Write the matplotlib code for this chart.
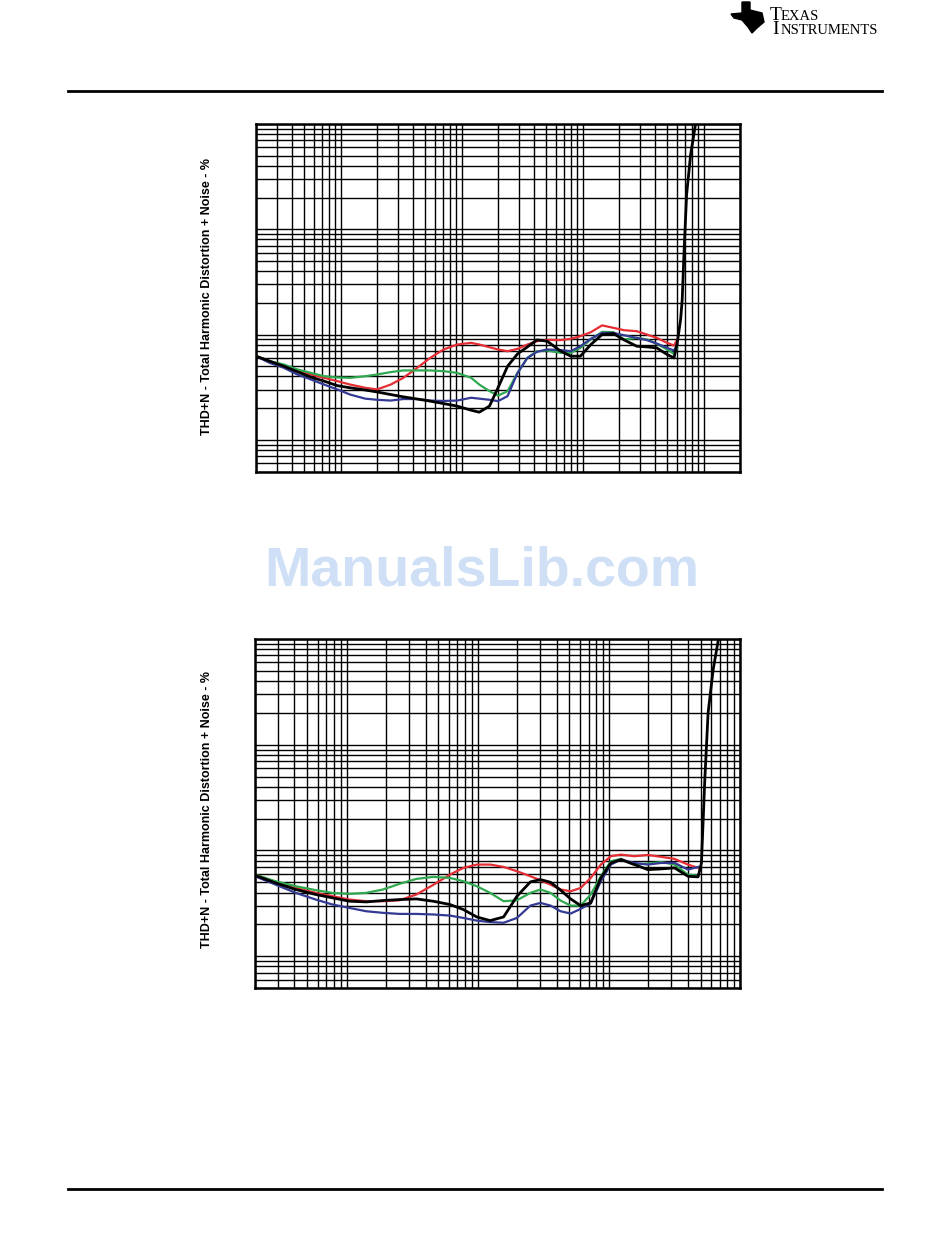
import numpy as np
import matplotlib
matplotlib.use("Agg")
import matplotlib.pyplot as plt
from matplotlib.ticker import LogLocator, NullFormatter
from matplotlib.patches import Polygon
from matplotlib.lines import Line2D

plt.rcParams['font.family'] = ['Liberation Sans', 'DejaVu Sans']

# ---- upper graph ----
x_top = [0.002, 0.0026, 0.0034, 0.0044, 0.0057, 0.0073, 0.0094, 0.012, 0.016, 0.02,
         0.026, 0.033, 0.043, 0.055, 0.071, 0.092, 0.12, 0.14, 0.17, 0.2,
         0.24, 0.29, 0.35, 0.42, 0.51, 0.66, 0.8, 0.96, 1.17, 1.45,
         1.8, 2.2, 2.8, 3.4, 4.1, 5.0, 5.7, 6.06]
red_top = [0.0623, 0.0558, 0.050, 0.0459, 0.0417, 0.0388, 0.0361, 0.0335, 0.0312, 0.0301,
           0.0335, 0.0388, 0.0483, 0.060, 0.0721, 0.0804, 0.0834, 0.0804, 0.0758, 0.0721,
           0.0695, 0.073, 0.0804, 0.0865, 0.089, 0.0885, 0.0911, 0.0965, 0.1053, 0.1222,
           0.1158, 0.110, 0.1076, 0.100, 0.093, 0.0834, 0.0786, 0.090]
green_top = [0.0623, 0.0558, 0.0519, 0.0466, 0.0432, 0.0402, 0.0391, 0.0388, 0.0402, 0.0417,
             0.0440, 0.0456, 0.0456, 0.0456, 0.0449, 0.0432, 0.0388, 0.0335, 0.0290, 0.0263,
             0.0290, 0.0432, 0.060, 0.0695, 0.0705, 0.067, 0.067, 0.0747, 0.0899, 0.106,
             0.1053, 0.0899, 0.093, 0.0899, 0.0816, 0.0721, 0.0655, 0.0747]
blue_top = [0.0623, 0.0538, 0.0483, 0.0417, 0.0374, 0.0335, 0.0301, 0.0269, 0.0246, 0.024,
            0.0236, 0.0244, 0.0244, 0.0236, 0.0234, 0.0236, 0.0251, 0.0246, 0.024, 0.0233,
            0.026, 0.0432, 0.060, 0.0685, 0.0721, 0.0712, 0.0695, 0.0775, 0.0911, 0.1037,
            0.1037, 0.0985, 0.093, 0.0885, 0.0822, 0.0747, 0.0705, 0.0804]
black_top_x = x_top + [6.46, 6.66, 6.88, 7.24, 7.81, 8.64]
black_top = [0.0623, 0.0558, 0.050, 0.0443, 0.0394, 0.0361, 0.0327, 0.0312, 0.0297, 0.0285,
             0.0269, 0.0256, 0.0244, 0.0233, 0.0221, 0.0209, 0.0191, 0.0183, 0.0209, 0.0312,
             0.050, 0.0655, 0.0763, 0.089, 0.0865, 0.0695, 0.0623, 0.0623, 0.0804, 0.100,
             0.102, 0.089, 0.0775, 0.0763, 0.0747, 0.0646, 0.060, 0.0834,
             0.139, 0.215, 0.575, 2.13, 5.1, 10.5]

# ---- lower graph ----
x_bot = [0.002, 0.00287, 0.00409, 0.00582, 0.00781, 0.0105, 0.0141, 0.0189, 0.0253, 0.034,
         0.0457, 0.0614, 0.0777, 0.0982, 0.1243, 0.1574, 0.199, 0.252, 0.301, 0.359,
         0.428, 0.511, 0.609, 0.727, 0.868, 1.036, 1.236, 1.564, 1.98, 2.506,
         3.17, 4.01, 4.79]
red_bot = [0.0591, 0.0504, 0.0442, 0.0397, 0.0369, 0.0343, 0.0331, 0.0331, 0.0338, 0.0383,
           0.0472, 0.0591, 0.0684, 0.0735, 0.0735, 0.0699, 0.0636, 0.0570, 0.0522, 0.0475,
           0.0427, 0.0411, 0.0442, 0.0550, 0.0735, 0.0882, 0.0914, 0.0882, 0.0907, 0.087,
           0.0832, 0.0735, 0.0684]
green_bot = [0.0591, 0.0511, 0.0459, 0.0421, 0.0397, 0.0388, 0.0397, 0.0427, 0.0483, 0.0538,
             0.0562, 0.0550, 0.0511, 0.0459, 0.0397, 0.0331, 0.0338, 0.0397, 0.0427, 0.0397,
             0.0336, 0.0301, 0.0301, 0.0383, 0.0570, 0.0791, 0.0832, 0.0735, 0.0752, 0.0776,
             0.0735, 0.0591, 0.0578]
blue_bot = [0.0570, 0.0475, 0.0397, 0.0343, 0.0308, 0.0286, 0.0266, 0.0257, 0.0251, 0.0251,
            0.0248, 0.0242, 0.0230, 0.0217, 0.0210, 0.0207, 0.0230, 0.0301, 0.0319, 0.0301,
            0.0266, 0.0253, 0.028, 0.0315, 0.0511, 0.0735, 0.082, 0.0762, 0.0735, 0.0762,
            0.0762, 0.0659, 0.0699]
black_bot_x = x_bot + [5.08, 5.39, 5.71, 6.24, 6.9]
black_bot = [0.0582, 0.0493, 0.0427, 0.0383, 0.0356, 0.0331, 0.0326, 0.0336, 0.0343, 0.0348,
             0.0331, 0.0308, 0.0276, 0.0235, 0.0217, 0.0235, 0.0369, 0.0504, 0.0530, 0.0500,
             0.0421, 0.0348, 0.0301, 0.0319, 0.0550, 0.0762, 0.082, 0.0735, 0.0659, 0.0669,
             0.0684, 0.0570, 0.0562,
             0.0762, 0.468, 2.0, 5.13, 10.5]

ylabel = 'THD+N - Total Harmonic Distortion + Noise - %'
c_red = '#e52d34'
c_green = '#2fa84f'
c_blue = '#333a94'

W, H = 950, 1241
fig = plt.figure(figsize=(W / 100, H / 100), dpi=100)


def px_axes(l, t, r, b):
    return fig.add_axes([l / W, 1 - b / H, (r - l) / W, (b - t) / H])


def setup(ax, xlim):
    ax.set_xscale('log')
    ax.set_yscale('log')
    ax.set_xlim(*xlim)
    ax.set_ylim(0.005, 10)
    for axis in (ax.xaxis, ax.yaxis):
        axis.set_major_locator(LogLocator(base=10, numticks=20))
        axis.set_minor_locator(LogLocator(base=10, subs=np.arange(2, 10), numticks=100))
        axis.set_minor_formatter(NullFormatter())
    ax.grid(which='both', color='black', lw=1.0)
    ax.tick_params(which='both', length=0, labelbottom=False, labelleft=False)
    for s in ax.spines.values():
        s.set_linewidth(1.8)


ax1 = px_axes(256, 124, 740, 471.5)
setup(ax1, (0.002, 20))
ax1.plot(x_top, red_top, color=c_red, lw=1.6)
ax1.plot(x_top, green_top, color=c_green, lw=1.6)
ax1.plot(x_top, blue_top, color=c_blue, lw=1.6)
ax1.plot(black_top_x, black_top, color='black', lw=2.0)

ax2 = px_axes(255, 639, 740, 988)
setup(ax2, (0.002, 10))
ax2.plot(x_bot, red_bot, color=c_red, lw=1.6)
ax2.plot(x_bot, green_bot, color=c_green, lw=1.6)
ax2.plot(x_bot, blue_bot, color=c_blue, lw=1.6)
ax2.plot(black_bot_x, black_bot, color='black', lw=2.0)

fig.text(207 / W, 1 - 296 / H, ylabel, rotation=90, ha='center', va='center',
         fontsize=9, fontweight='bold')
fig.text(207 / W, 1 - 809 / H, ylabel, rotation=90, ha='center', va='center',
         fontsize=9, fontweight='bold')

# watermark
fig.text(482 / W, 1 - 585 / H, 'ManualsLib.com', ha='center', va='baseline',
         fontsize=40, fontweight='bold', color='#cfe0f6')

# page rules
fig.add_artist(Line2D([68 / W, 882 / W], [1 - 91.3 / H] * 2, color='black', lw=2.0))
fig.add_artist(Line2D([68 / W, 882 / W], [1 - 1189 / H] * 2, color='black', lw=2.0))

# TI logo
logo = [(742, 2), (750, 2), (750, 10), (762, 13), (764, 22), (757, 28), (752, 33),
        (748, 27), (742, 20), (734, 18), (731, 14), (742, 13)]
fig.add_artist(Polygon([(x / W, 1 - y / H) for x, y in logo], closed=True,
                       transform=fig.transFigure, color='black'))
serif = ['Liberation Serif', 'DejaVu Serif']
fig.text(776 / W, 1 - 34.3 / H, 'T\nI', fontsize=14, family=serif, ha='center',
         va='baseline', multialignment='center', linespacing=0.82)
fig.text(781 / W, 1 - 34.3 / H, 'EXAS\nNSTRUMENTS', fontsize=10.5, family=serif,
         ha='left', va='baseline', multialignment='left', linespacing=1.12)

fig.savefig('out.png', dpi=100)
